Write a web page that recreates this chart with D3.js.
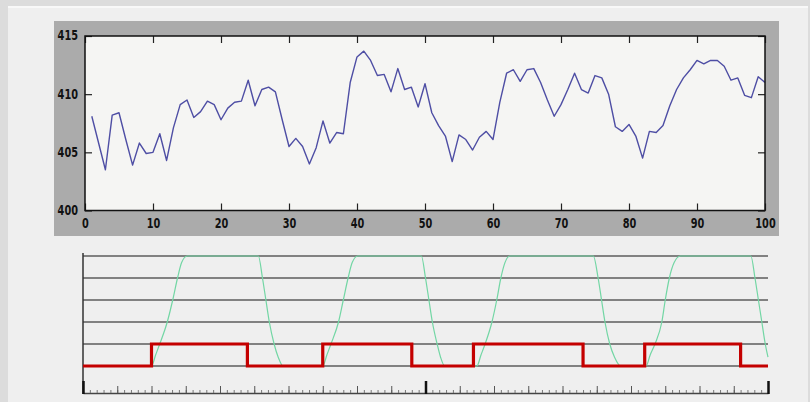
<!DOCTYPE html>
<html>
<head>
<meta charset="utf-8">
<script src="https://cdn.jsdelivr.net/npm/d3@7"></script>
<style>
  html, body { margin: 0; padding: 0; background: #dcdcdc; }
  svg { display: block; }
  .lbl text { font-family: "DejaVu Sans Condensed", "DejaVu Sans", sans-serif; font-weight: bold; font-size: 14px; fill: #111; }
</style>
</head>
<body>
<svg id="chart" width="810" height="402"></svg>
<script>
// top plot: one signal sample per step
const steps = d3.range(1, 101);
const signal = [
  408.1, 405.8, 403.5, 408.2, 408.4, 406.1, 403.9, 405.8, 404.9, 405.0,
  406.6, 404.3, 407.1, 409.1, 409.5, 408.0, 408.5, 409.4, 409.1, 407.8,
  408.8, 409.3, 409.4, 411.2, 409.0, 410.4, 410.6, 410.2, 407.8, 405.5,
  406.2, 405.5, 404.0, 405.4, 407.7, 405.8, 406.7, 406.6, 411.0, 413.2,
  413.7, 412.9, 411.6, 411.7, 410.2, 412.2, 410.4, 410.6, 408.9, 410.9,
  408.4, 407.3, 406.4, 404.2, 406.5, 406.1, 405.2, 406.3, 406.8, 406.1,
  409.3, 411.8, 412.1, 411.1, 412.1, 412.2, 411.0, 409.5, 408.1, 409.1,
  410.4, 411.8, 410.4, 410.1, 411.6, 411.4, 410.0, 407.2, 406.8, 407.4,
  406.4, 404.5, 406.8, 406.7, 407.3, 409.0, 410.4, 411.4, 412.1, 412.9,
  412.6, 412.9, 412.9, 412.4, 411.2, 411.4, 409.9, 409.7, 411.5, 411.0
];
const xTicks = [0, 10, 20, 30, 40, 50, 60, 70, 80, 90, 100];
const yTicks = [400, 405, 410, 415];

// bottom plot: red square wave (step changes) and green response
const redTimes = [0, 10, 24, 35, 48, 57, 73, 82, 96, 100];
const redLevels = [0, 1, 0, 1, 0, 1, 0, 1, 0, 0];
const greenTimes = [
  0, 10, 10.6, 11.2, 12.3, 13.1, 13.8, 14.4, 15.2,
  25.6, 26.2, 26.7, 27.2, 27.9, 28.5, 29.2,
  35, 35.6, 36.2, 37.3, 38, 38.7, 39.3, 40.1,
  49.4, 50, 50.5, 51, 51.7, 52.2, 52.8,
  57.5, 58.1, 58.7, 59.7, 60.4, 61, 61.6, 62.3,
  74.5, 75.2, 75.7, 76.2, 76.9, 77.6, 78.5,
  82.2, 82.8, 83.5, 84.5, 85, 85.6, 86.3, 87.2,
  97.5, 98.1, 98.6, 99.1, 99.6, 100
];
const greenLevels = [
  0, 0, 0.5, 1, 2, 3, 4, 4.7, 5,
  5, 4, 3, 2, 1, 0.4, 0,
  0, 0.5, 1, 2, 3, 4, 4.7, 5,
  5, 4, 3, 2, 1, 0.4, 0,
  0, 0.5, 1, 2, 3, 4, 4.7, 5,
  5, 4, 3, 2, 1, 0.4, 0,
  0, 0.5, 1, 2, 3, 4, 4.7, 5,
  5, 4, 3, 2, 1, 0.4
];
const gridLevels = [0, 1, 2, 3, 4, 5];
const minorTicks = d3.range(0, 101, 1);
const majorTicks = d3.range(0, 101, 5);
const boldTicks = [0, 50, 100];

const svg = d3.select("#chart");

// backdrop
svg.append("rect").attr("width", 810).attr("height", 402).attr("fill", "#dcdcdc");
svg.append("rect").attr("x", 8).attr("y", 6).attr("width", 800).attr("height", 396).attr("fill", "#efefef");
svg.append("line").attr("x1", 8).attr("x2", 808).attr("y1", 7).attr("y2", 7)
  .attr("stroke", "#f8f8f8").attr("stroke-width", 2);

// ---- top chart ----
svg.append("rect").attr("x", 54).attr("y", 21).attr("width", 725).attr("height", 215).attr("fill", "#ababab");

const x = d3.scaleLinear().domain([0, 100]).range([85, 765]);
const y = d3.scaleLinear().domain([400, 415]).range([210.5, 36]);

svg.append("rect")
  .attr("x", x(0)).attr("y", y(415))
  .attr("width", x(100) - x(0)).attr("height", y(400) - y(415))
  .attr("fill", "#f5f5f3");

const line = d3.line()
  .x((d, i) => x(steps[i]))
  .y(d => y(d));

svg.append("path")
  .datum(signal)
  .attr("fill", "none")
  .attr("stroke", "#4e4ea4")
  .attr("stroke-width", 1.4)
  .attr("stroke-linejoin", "round")
  .attr("d", line);

function styleAxis(g) {
  g.select(".domain").remove();
  g.selectAll(".tick line").attr("stroke", "#222").attr("stroke-width", 1.2);
  // squeeze the digits into the narrow look of the original
  g.selectAll(".tick text")
    .attr("textLength", function() { return this.textContent.length * 6.8; })
    .attr("lengthAdjust", "spacingAndGlyphs");
}

svg.append("g").attr("class", "lbl")
  .attr("transform", `translate(0,${y(400)})`)
  .call(d3.axisBottom(x).tickValues(xTicks).tickSize(-7).tickPadding(8))
  .call(styleAxis);

svg.append("g")
  .attr("transform", `translate(0,${y(415)})`)
  .call(d3.axisTop(x).tickValues(xTicks).tickSize(-7).tickFormat(""))
  .call(styleAxis);

svg.append("g").attr("class", "lbl")
  .attr("transform", `translate(${x(0)},0)`)
  .call(d3.axisLeft(y).tickValues(yTicks).tickSize(-7).tickPadding(7))
  .call(styleAxis)
  .call(g => g.selectAll(".tick text").attr("dy", "0.28em"));

svg.append("g")
  .attr("transform", `translate(${x(100)},0)`)
  .call(d3.axisRight(y).tickValues(yTicks).tickSize(-7).tickFormat(""))
  .call(styleAxis);

svg.append("rect")
  .attr("x", x(0)).attr("y", y(415))
  .attr("width", x(100) - x(0)).attr("height", y(400) - y(415))
  .attr("fill", "none").attr("stroke", "#111").attr("stroke-width", 1.5);

// ---- bottom chart ----
const xb = d3.scaleLinear().domain([0, 100]).range([83, 768]);
const yb = d3.scaleLinear().domain([0, 5]).range([366, 256]);

svg.append("g").selectAll("line")
  .data(gridLevels)
  .join("line")
    .attr("x1", xb(0)).attr("x2", xb(100))
    .attr("y1", d => yb(d)).attr("y2", d => yb(d))
    .attr("stroke", "#5c5c5c")
    .attr("stroke-width", 1.5);

svg.append("line")
  .attr("x1", xb(0)).attr("x2", xb(0))
  .attr("y1", yb(5) - 3).attr("y2", 394)
  .attr("stroke", "#333").attr("stroke-width", 1.5);

const green = d3.line()
  .x((d, i) => xb(greenTimes[i]))
  .y(d => yb(d))
  .curve(d3.curveMonotoneX);

svg.append("path")
  .datum(greenLevels)
  .attr("fill", "none")
  .attr("stroke", "#72d6a4")
  .attr("stroke-width", 1.2)
  .attr("d", green);

const red = d3.line()
  .x((d, i) => xb(redTimes[i]))
  .y(d => yb(d))
  .curve(d3.curveStepAfter);

svg.append("path")
  .datum(redLevels)
  .attr("fill", "none")
  .attr("stroke", "#c40000")
  .attr("stroke-width", 3.2)
  .attr("d", red);

// bottom time axis, ticks pointing up
const axisY = 393;
svg.append("g")
  .attr("transform", `translate(0,${axisY})`)
  .call(d3.axisTop(xb).tickValues(minorTicks).tickSize(3).tickSizeOuter(0).tickFormat(""))
  .call(g => g.select(".domain").attr("stroke", "#444").attr("stroke-width", 1.5))
  .call(g => g.selectAll(".tick line").attr("stroke", "#777"));

svg.append("g")
  .attr("transform", `translate(0,${axisY})`)
  .call(d3.axisTop(xb).tickValues(majorTicks).tickSize(7).tickFormat(""))
  .call(g => g.select(".domain").remove())
  .call(g => g.selectAll(".tick line").attr("stroke", "#555"));

svg.append("g")
  .attr("transform", `translate(0,${axisY + 1})`)
  .call(d3.axisTop(xb).tickValues(boldTicks).tickSize(13).tickFormat(""))
  .call(g => g.select(".domain").remove())
  .call(g => g.selectAll(".tick line").attr("stroke", "#111").attr("stroke-width", 2.5));
</script>
</body>
</html>
